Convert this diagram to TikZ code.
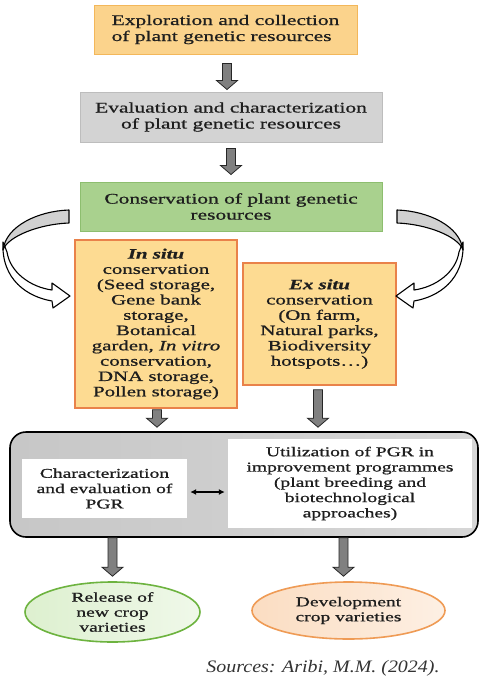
\documentclass[tikz,border=0pt]{standalone}
\usepackage{fontspec}
\setmainfont[FakeStretch=1.46, FakeBold=0.9]{Liberation Serif}
\newfontfamily\srcfont[FakeStretch=1.14]{Liberation Serif}
\usetikzlibrary{calc,shapes.geometric,arrows.meta}

\definecolor{exploreFill}{HTML}{FBD38C}
\definecolor{exploreLine}{HTML}{F3B75A}
\definecolor{evalFill}{HTML}{D3D3D3}
\definecolor{evalLine}{HTML}{BDBDBD}
\definecolor{consFill}{HTML}{A9D18E}
\definecolor{consLine}{HTML}{8DBE6F}
\definecolor{situFill}{HTML}{FDDB92}
\definecolor{situLine}{HTML}{E9824A}
\definecolor{releaseFill}{HTML}{DDF0CF}
\definecolor{releaseLine}{HTML}{6DB33F}
\definecolor{developFill}{HTML}{FBDDC2}
\definecolor{developLine}{HTML}{EF9B55}
\definecolor{inkText}{HTML}{1E1E1E}

\tikzset{
	stagebox/.style={rectangle, line width=1pt, inner sep=0pt, align=center,
		text=inkText, font=\fontsize{14.7}{16}\selectfont},
	situbox/.style={rectangle, draw=situLine, fill=situFill, line width=1.6pt,
		inner sep=0pt, align=center, text=inkText, font=\fontsize{14.3}{15.3}\selectfont},
	whitebox/.style={rectangle, fill=white, inner sep=0pt, align=center,
		text=inkText, font=\fontsize{13.4}{15.3}\selectfont},
	outcome/.style={ellipse, line width=1.6pt, inner sep=0pt, align=center,
		text=inkText, font=\fontsize{13.4}{15}\selectfont},
	blockfill/.style={fill=black!50, draw=black!85, line width=0.8pt},
	ribbonline/.style={draw=black, line width=1.1pt, line join=round}
}

% thick gray arrow going straight down from #1 to the height of #2
\newcommand{\blockarrow}[2]{%
	\filldraw[blockfill] let \p1=#1, \p2=#2 in
		(\x1-4.5pt,\y1) -- (\x1-4.5pt,\y2+9pt) -- (\x1-10.5pt,\y2+9pt)
		-- (\x1,\y2) -- (\x1+10.5pt,\y2+9pt) -- (\x1+4.5pt,\y2+9pt)
		-- (\x1+4.5pt,\y1) -- cycle;}

% twisted ribbon arrow, left-hand version
\newcommand{\ribbonarrow}{%
	\filldraw[ribbonline, fill=white] (3,242) .. controls (1,280) and (28,297) .. (52,301)
		-- (53,308) -- (70,296) -- (52,283) -- (52,290)
		.. controls (30,287) and (10,272) .. (7,252) -- cycle;
	\filldraw[ribbonline, fill=black!18] (69,210) .. controls (38,211) and (6,226) .. (3,250)
		.. controls (8,236) and (40,224) .. (69,223) -- cycle;}

\begin{document}
\begin{tikzpicture}[x=1pt, y=-1pt]
	\useasboundingbox[fill=white] (0,0) rectangle (480,681);

	% main chain
	\node[stagebox, draw=exploreLine, fill=exploreFill, minimum width=263pt, minimum height=49pt, align=left]
		(explore) at (225.5,29.5) {Exploration and collection\\of plant genetic resources};
	\node[stagebox, draw=evalLine, fill=evalFill, minimum width=302pt, minimum height=50pt]
		(evaluate) at (231,117) {Evaluation and characterization\\of plant genetic resources};
	\node[stagebox, draw=consLine, fill=consFill, minimum width=302pt, minimum height=49pt]
		(conserve) at (231,206.5) {Conservation of plant genetic\\resources};

	\blockarrow{($(explore.south)+(1.5,9)$)}{($(evaluate.north)+(0,-2)$)}
	\blockarrow{($(evaluate.south)+(0,6)$)}{($(conserve.north)+(0,-7)$)}

	% the two ways of conservation
	\node[situbox, minimum width=162pt, minimum height=168pt] (insitu) at (156,324)
		{\textbf{\textit{In situ}}\\conservation\\(Seed storage,\\Gene bank\\storage,\\Botanical\\garden, \textit{In vitro}\\conservation,\\DNA storage,\\Pollen storage)};
	\node[situbox, minimum width=153pt, minimum height=122pt] (exsitu) at (319.5,324)
		{\textbf{\textit{Ex situ}}\\conservation\\(On farm,\\Natural parks,\\Biodiversity\\hotspots\ldots)};

	\ribbonarrow
	\begin{scope}[xshift=466pt, xscale=-1]
		\ribbonarrow
	\end{scope}

	% use of the resources
	\node[rectangle, draw=black, line width=1.6pt, rounded corners=16pt,
		left color=black!22, middle color=black!10, right color=black!16,
		minimum width=468pt, minimum height=105pt] (usage) at (244,484.5) {};
	\node[whitebox, minimum width=165pt, minimum height=59pt] (chareval) at (104.5,488.5)
		{Characterization\\and evaluation of\\PGR};
	\node[whitebox, minimum width=244pt, minimum height=89pt] (utilpgr) at (350,483.5)
		{Utilization of PGR in\\improvement programmes\\(plant breeding and\\biotechnological\\approaches)};
	\draw[{Latex[length=6pt,width=6pt]}-{Latex[length=6pt,width=6pt]}, line width=1.2pt]
		($(chareval.east)+(3,3.5)$) -- ($(chareval.east -| utilpgr.west)+(-3,3.5)$);

	\blockarrow{($(insitu.south)+(1,1)$)}{($(usage.north)+(0,-4)$)}
	\blockarrow{($(exsitu.south)+(-1.5,4)$)}{($(usage.north)+(0,-4)$)}

	% results
	\node[outcome, draw=releaseLine, left color=releaseFill, right color=releaseFill!45,
		minimum width=175pt, minimum height=60pt] (release) at (112.5,612)
		{Release of\\new crop\\varieties};
	\node[outcome, draw=developLine, left color=developFill, right color=developFill!45,
		minimum width=193pt, minimum height=57pt] (develop) at (348.5,610.5)
		{Development\\crop varieties};

	\blockarrow{(usage.south -| release.north)}{($(release.north)+(0,-5)$)}
	\blockarrow{($(usage.south -| develop.north)+(-5,0)$)}{($(develop.north)+(0,-5)$)}

	\node[text=black!80, font=\srcfont\itshape\fontsize{17.5}{19}\selectfont] (source) at (323,668)
		{Sources: Aribi, M.M. (2024).};
\end{tikzpicture}
\end{document}
